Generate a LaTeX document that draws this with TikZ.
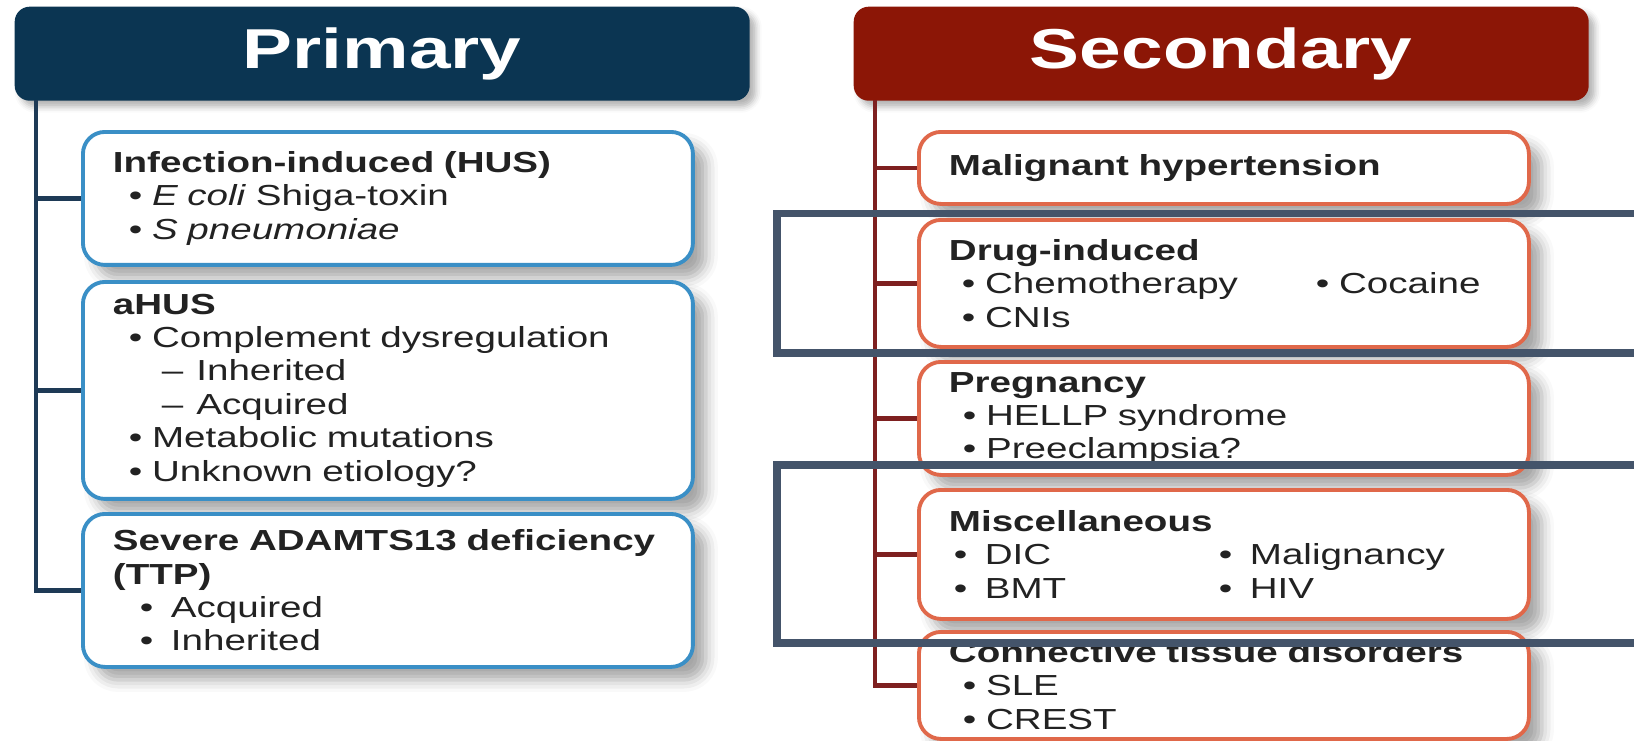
\documentclass[tikz,border=0pt]{standalone}
\usepackage{fontspec}
\setmainfont{Liberation Sans}[FakeStretch=1.33]
\usetikzlibrary{shadows,shadows.blur}
\definecolor{primnavy}{HTML}{0B3552}
\definecolor{primtrunk}{HTML}{1E3A56}
\definecolor{primblue}{HTML}{3A8FC6}
\definecolor{secred}{HTML}{8C1606}
\definecolor{sectrunk}{HTML}{7E2020}
\definecolor{secsalmon}{HTML}{E0684A}
\definecolor{slate}{HTML}{44546A}
\definecolor{txtgray}{HTML}{222222}
\tikzset{
  basic/.style   = {draw, fill=white, rounded corners=2.2mm, line width=1.1pt, align=left,
                    anchor=north west, text width=55mm, inner xsep=3mm, inner ysep=0.5mm,
                    font=\fontsize{8.25}{9.5}\selectfont, text=txtgray,
                    blur shadow={shadow xshift=1.3mm, shadow yshift=-1.3mm,
                                 shadow blur radius=1.2mm, shadow opacity=35}},
  primbox/.style = {basic, draw=primblue},
  secbox/.style  = {basic, draw=secsalmon},
  header/.style  = {rounded corners=1.5mm, minimum width=73.5mm, minimum height=9.4mm,
                    anchor=north west, text=white, font=\fontsize{16}{18}\selectfont\bfseries,
                    blur shadow={shadow xshift=0.6mm, shadow yshift=-0.6mm,
                                 shadow blur radius=0.6mm, shadow opacity=30}},
  trunk/.style   = {line width=1.2pt},
  frame/.style   = {draw=slate, line width=2pt}
}

\begin{document}
\begin{tikzpicture}[x=0.1mm, y=-0.1mm]
    \useasboundingbox (0,0) rectangle (1634,741);

    % headers
    \node [header, fill=primnavy] (hprim) at (14,6) {Primary};
    \node [header, fill=secred] (hsec) at (853,6) {Secondary};

    % primary causes
    \node [primbox, minimum height=13.3mm] (inf) at (81,130) {%
        \textbf{Infection-induced (HUS)}\\
        \hspace*{1.6mm}\textbullet\ \textit{E coli} Shiga-toxin\\
        \hspace*{1.6mm}\textbullet\ \textit{S pneumoniae}};
    \node [primbox, minimum height=21.7mm] (ahus) at (81,280) {%
        \textbf{aHUS}\\
        \hspace*{1.6mm}\textbullet\ Complement dysregulation\\
        \hspace*{4.9mm}--\hspace*{1.3mm}Inherited\\
        \hspace*{4.9mm}--\hspace*{1.3mm}Acquired\\
        \hspace*{1.6mm}\textbullet\ Metabolic mutations\\
        \hspace*{1.6mm}\textbullet\ Unknown etiology?};
    \node [primbox, minimum height=15.3mm] (ttp) at (81,512) {%
        \textbf{Severe ADAMTS13 deficiency}\\
        \textbf{(TTP)}\\
        \hspace*{2.7mm}\textbullet\hspace*{1.75mm}Acquired\\
        \hspace*{2.7mm}\textbullet\hspace*{1.75mm}Inherited};

    % secondary causes
    \node [secbox, minimum height=7.2mm] (malig) at (917,130) {%
        \textbf{Malignant hypertension}};
    \node [secbox, minimum height=12.7mm] (drug) at (917,218) {%
        \textbf{Drug-induced}\\
        \hspace*{1.3mm}\makebox[35.4mm][l]{\textbullet\ Chemotherapy}\textbullet\ Cocaine\\
        \hspace*{1.3mm}\textbullet\ CNIs};
    \node [secbox, minimum height=11.3mm] (preg) at (917,360) {%
        \textbf{Pregnancy}\\
        \hspace*{1.4mm}\textbullet\ HELLP syndrome\\
        \hspace*{1.4mm}\textbullet\ Preeclampsia?};
    \node [secbox, minimum height=12.9mm] (misc) at (917,488) {%
        \textbf{Miscellaneous}\\
        \hspace*{0.5mm}\makebox[26.5mm][l]{\textbullet\hspace*{1.75mm}DIC}\textbullet\hspace*{1.75mm}Malignancy\\
        \hspace*{0.5mm}\makebox[26.5mm][l]{\textbullet\hspace*{1.75mm}BMT}\textbullet\hspace*{1.75mm}HIV};
    \node [secbox, minimum height=10.7mm] (conn) at (917,630) {%
        \textbf{Connective tissue disorders}\\
        \hspace*{1.4mm}\textbullet\ SLE\\
        \hspace*{1.4mm}\textbullet\ CREST};

    % trunks and branches
    \coordinate (ptop) at (36,100);
    \coordinate (stop) at (875,100);
    \draw [trunk, draw=primtrunk] (ptop) |- (ttp.west);
    \foreach \b in {inf,ahus}
        \draw [trunk, draw=primtrunk] (ptop |- \b.west) -- (\b.west);
    \draw [trunk, draw=sectrunk] (stop) |- (conn.west);
    \foreach \b in {malig,drug,preg,misc}
        \draw [trunk, draw=sectrunk] (stop |- \b.west) -- (\b.west);

    % highlight frames
    \draw [frame] (777,213.5) rectangle (1650,353);
    \draw [frame] (777,465) rectangle (1650,643);
\end{tikzpicture}
\end{document}
